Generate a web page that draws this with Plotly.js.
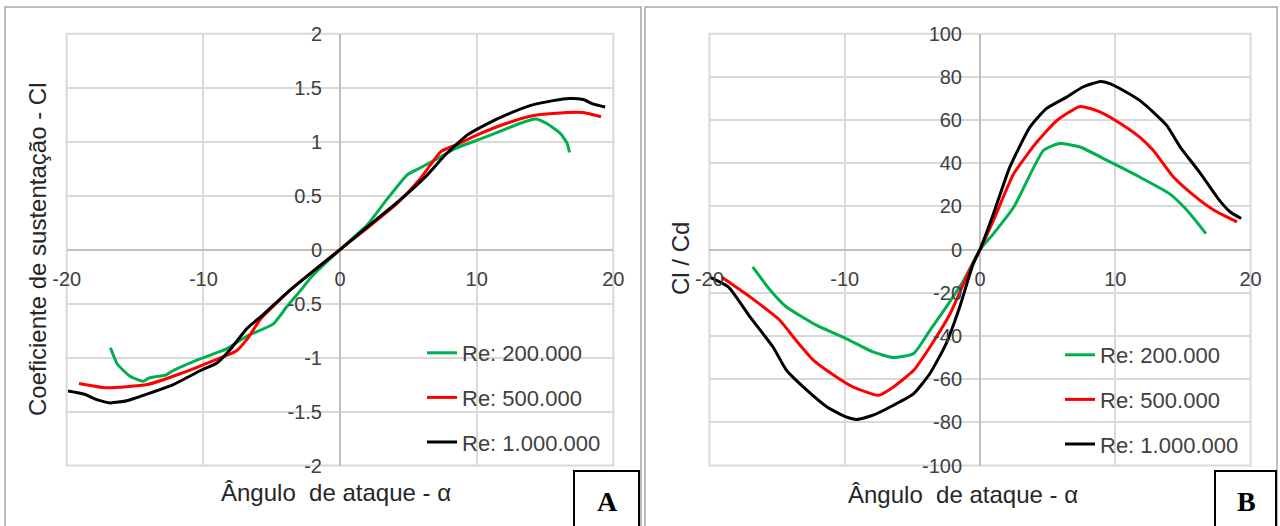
<!DOCTYPE html>
<html>
<head>
<meta charset="utf-8">
<script src="https://cdn.plot.ly/plotly-3.0.1.min.js"></script>
<style>html,body{margin:0;padding:0;background:#fff;}#chart{width:1280px;height:526px;}</style>
</head>
<body>
<div id="chart"></div>
<script>
// ---- Panel A: lift coefficient Cl vs angle of attack ----
const alphaA_re200 = [-16.8,-16.3,-15.4,-14.4,-14.0,-12.7,-12.2,-10.2,-8.3,-6.8,-4.9,-3.9,-2.9,-2.0,0,2.0,3.4,4.9,5.6,7.1,8.5,10.2,12.2,13.2,14.3,15.1,16.1,16.6,16.8];
const clA_re200    = [-0.91,-1.06,-1.17,-1.22,-1.19,-1.16,-1.12,-1.01,-0.92,-0.80,-0.69,-0.53,-0.38,-0.24,0,0.23,0.46,0.69,0.74,0.84,0.94,1.02,1.12,1.17,1.21,1.17,1.08,0.99,0.90];

const alphaA_re500 = [-19.1,-17.1,-14.1,-11.7,-9.3,-7.6,-6.8,-5.8,-4.6,-3.7,0,2.0,4.2,5.9,7.4,8.5,10.0,12.2,14.1,16.6,17.8,19.1];
const clA_re500    = [-1.24,-1.28,-1.25,-1.15,-1.03,-0.94,-0.83,-0.64,-0.49,-0.38,0,0.20,0.43,0.66,0.91,0.97,1.06,1.17,1.24,1.27,1.27,1.23];

const alphaA_re1M  = [-19.9,-18.7,-17.8,-16.8,-15.6,-14.4,-12.2,-10.2,-9.0,-8.0,-6.8,-5.6,-3.7,0,2.0,4.4,6.3,7.8,9.3,10.7,12.2,14.1,15.6,16.8,17.8,18.5,19.4];
const clA_re1M     = [-1.31,-1.34,-1.39,-1.42,-1.40,-1.35,-1.25,-1.12,-1.05,-0.92,-0.73,-0.60,-0.38,0,0.21,0.46,0.68,0.89,1.06,1.16,1.25,1.34,1.38,1.40,1.39,1.35,1.32];

// ---- Panel B: Cl/Cd vs angle of attack ----
const alphaB_re200 = [-16.8,-15.5,-14.3,-12.1,-9.9,-7.9,-6.4,-4.9,-3.7,-2.5,-1.2,0,1.0,2.5,4.7,5.9,7.4,9.4,11.8,14.0,15.3,16.7];
const ldB_re200    = [-8.0,-18.8,-26.6,-35.0,-41.2,-47.4,-50.0,-48.1,-37.4,-26.6,-14.2,0,7.4,19.7,46.0,49.1,47.5,41.3,33.6,25.9,18.2,7.4];

const alphaB_re500 = [-19.1,-17.0,-14.8,-13.6,-12.3,-10.8,-9.4,-7.5,-6.4,-4.9,-3.7,-2.2,-1.0,0,1.0,2.5,4.2,5.7,7.4,8.9,10.6,11.8,12.8,14.3,15.8,17.3,19.0];
const ldB_re500    = [-12.7,-21.9,-32.7,-42.0,-51.3,-58.2,-63.6,-67.5,-63.6,-55.9,-45.1,-29.6,-12.7,0,13.6,35.2,49.8,59.9,66.3,63.7,57.5,52.1,46.0,33.6,25.1,18.2,12.8];

const alphaB_re1M  = [-19.9,-18.6,-17.0,-15.3,-14.3,-12.8,-11.3,-9.9,-9.1,-7.9,-6.4,-4.9,-3.7,-2.5,-1.5,-0.5,0,1.0,2.2,3.7,4.9,6.4,7.6,8.9,9.6,10.6,11.8,12.8,13.8,14.8,16.3,17.7,18.5,19.3];
const ldB_re1M     = [-13.0,-17.3,-31.2,-45.1,-55.9,-65.1,-72.9,-77.5,-78.7,-76.7,-72.1,-66.7,-57.4,-43.5,-26.6,-6.5,0,16.7,38.2,56.8,65.3,70.6,75.3,77.9,76.9,73.7,69.1,63.7,57.5,47.5,35.2,22.8,17.4,14.4];

// ---- Labels ----
const seriesNames = ["Re: 200.000", "Re: 500.000", "Re: 1.000.000"];
const seriesColors = ["#00b050", "#ff0000", "#000000"];
const xTickVals = [-20,-10,0,10,20];
const xTickText = ["-20","-10","0","10","20"];
const yA_TickVals = [-2,-1.5,-1,-0.5,0,0.5,1,1.5,2];
const yA_TickText = ["-2","-1.5","-1","-0.5","0","0.5","1","1.5","2"];
const yB_TickVals = [-100,-80,-60,-40,-20,0,20,40,60,80,100];
const yB_TickText = ["-100","-80","-60","-40","-20","0","20","40","60","80","100"];
const xTitle = "Ângulo&nbsp;&nbsp;de ataque - α";
const yTitleA = "Coeficiente de sustentação - Cl";
const yTitleB = "Cl / Cd";

const W = 1280, H = 526;
const px = v => v / W;
const py = v => (H - v) / H;
const FONT = "Liberation Sans, Arial, sans-serif";
const TXT = "#404040";

const dataA = [[alphaA_re200, clA_re200],[alphaA_re500, clA_re500],[alphaA_re1M, clA_re1M]];
const dataB = [[alphaB_re200, ldB_re200],[alphaB_re500, ldB_re500],[alphaB_re1M, ldB_re1M]];

const traces = [];
dataA.forEach((d, i) => traces.push({
  x: d[0], y: d[1], type: 'scatter', mode: 'lines', name: seriesNames[i],
  line: {color: seriesColors[i], width: 3, shape: 'spline', smoothing: 0.5},
  xaxis: 'x', yaxis: 'y', legend: 'legend', legendgroup: 'a' + i
}));
dataB.forEach((d, i) => traces.push({
  x: d[0], y: d[1], type: 'scatter', mode: 'lines', name: seriesNames[i],
  line: {color: seriesColors[i], width: 3, shape: 'spline', smoothing: 0.5},
  xaxis: 'x2', yaxis: 'y2', legend: 'legend2', legendgroup: 'b' + i
}));

const yDom = [0.115, 0.936];
const xDomA = [px(66.7), px(613.3)];
const xDomB = [px(709.4), px(1250.6)];
const mid = a => (a[0] + a[1]) / 2;

function xax(dom) {
  return {
    domain: dom, range: [-20, 20], anchor: 'free', position: mid(yDom),
    tickvals: xTickVals, ticktext: xTickText, ticks: '', ticklabelstandoff: 15,
    showgrid: true, gridcolor: '#d9d9d9', gridwidth: 2,
    zeroline: true, zerolinecolor: '#bfbfbf', zerolinewidth: 2,
    showline: false, tickfont: {size: 20, color: TXT, family: FONT}, fixedrange: true
  };
}
function yax(range, vals, text, xdom) {
  return {
    domain: yDom, range: range, anchor: 'free', position: mid(xdom), side: 'left',
    tickvals: vals, ticktext: text, ticks: '', ticklabelstandoff: 18,
    showgrid: true, gridcolor: '#d9d9d9', gridwidth: 2,
    zeroline: true, zerolinecolor: '#bfbfbf', zerolinewidth: 2,
    showline: false, tickfont: {size: 20, color: TXT, family: FONT}, fixedrange: true
  };
}

const legendBase = {
  xanchor: 'left', yanchor: 'top', bgcolor: 'rgba(0,0,0,0)', borderwidth: 0,
  font: {size: 22, color: TXT, family: FONT}, tracegroupgap: 13, traceorder: 'grouped'
};

const layout = {
  width: W, height: H, margin: {l: 0, r: 0, t: 0, b: 0},
  paper_bgcolor: '#ffffff', plot_bgcolor: '#ffffff',
  font: {family: FONT, color: TXT},
  xaxis: xax(xDomA),
  yaxis: yax([-2, 2], yA_TickVals, yA_TickText, xDomA),
  xaxis2: xax(xDomB),
  yaxis2: yax([-100, 100], yB_TickVals, yB_TickText, xDomB),
  legend: Object.assign({}, legendBase, {x: px(422), y: py(332)}),
  legend2: Object.assign({}, legendBase, {x: px(1060), y: py(334)}),
  showlegend: true,
  shapes: [
    // plot-area borders
    {type: 'rect', xref: 'x domain', yref: 'y domain', x0: 0, x1: 1, y0: 0, y1: 1, line: {color: '#d9d9d9', width: 2}, layer: 'below'},
    {type: 'rect', xref: 'x2 domain', yref: 'y2 domain', x0: 0, x1: 1, y0: 0, y1: 1, line: {color: '#d9d9d9', width: 2}, layer: 'below'},
    // panel frames
    {type: 'rect', xref: 'paper', yref: 'paper', x0: px(5), x1: px(641), y0: py(540), y1: py(7), line: {color: '#a6a6a6', width: 1.5}},
    {type: 'rect', xref: 'paper', yref: 'paper', x0: px(645), x1: px(1277), y0: py(540), y1: py(7), line: {color: '#a6a6a6', width: 1.5}},
    // label boxes
    {type: 'rect', xref: 'paper', yref: 'paper', x0: px(574), x1: px(639), y0: py(540), y1: py(471), line: {color: '#000000', width: 2}, fillcolor: '#ffffff'},
    {type: 'rect', xref: 'paper', yref: 'paper', x0: px(1215), x1: px(1276), y0: py(540), y1: py(471), line: {color: '#000000', width: 2}, fillcolor: '#ffffff'}
  ],
  annotations: [
    {text: xTitle, xref: 'paper', yref: 'paper', x: px(336), y: py(492), showarrow: false, xanchor: 'center', yanchor: 'middle', font: {size: 24, color: '#262626', family: FONT}},
    {text: xTitle, xref: 'paper', yref: 'paper', x: px(963), y: py(494), showarrow: false, xanchor: 'center', yanchor: 'middle', font: {size: 24, color: '#262626', family: FONT}},
    {text: yTitleA, xref: 'paper', yref: 'paper', x: px(37), y: py(249), showarrow: false, textangle: -90, xanchor: 'center', yanchor: 'middle', font: {size: 24, color: '#262626', family: FONT}},
    {text: yTitleB, xref: 'paper', yref: 'paper', x: px(680), y: py(259), showarrow: false, textangle: -90, xanchor: 'center', yanchor: 'middle', font: {size: 24, color: '#262626', family: FONT}},
    {text: '<b>A</b>', xref: 'paper', yref: 'paper', x: px(607), y: py(501), showarrow: false, xanchor: 'center', yanchor: 'middle', font: {size: 28, color: '#000000', family: 'Liberation Serif, Times New Roman, serif'}},
    {text: '<b>B</b>', xref: 'paper', yref: 'paper', x: px(1246), y: py(501), showarrow: false, xanchor: 'center', yanchor: 'middle', font: {size: 28, color: '#000000', family: 'Liberation Serif, Times New Roman, serif'}}
  ]
};

Plotly.newPlot('chart', traces, layout, {staticPlot: true, displayModeBar: false});
</script>
</body>
</html>
